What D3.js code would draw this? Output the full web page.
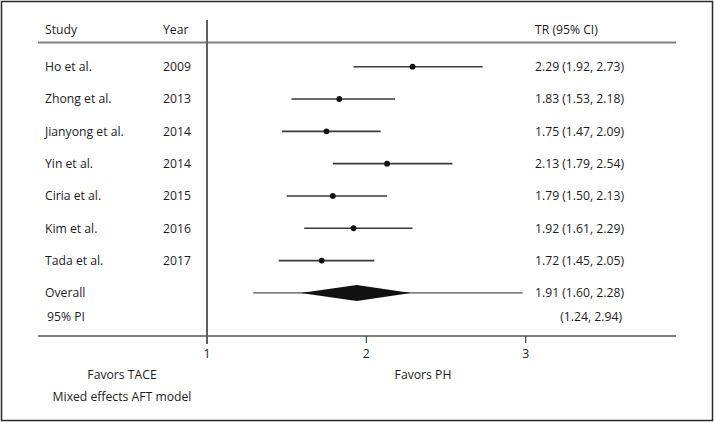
<!DOCTYPE html>
<html><head><meta charset="utf-8">
<script src="https://cdn.jsdelivr.net/npm/d3@7"></script>
<style>html,body{margin:0;padding:0;background:#fff}svg{display:block}text{font-family:"Open Sans",sans-serif;fill:#1c1c1c}</style>
</head><body>
<script>
const studies = ["Ho et al.","Zhong et al.","Jianyong et al.","Yin et al.","Ciria et al.","Kim et al.","Tada et al."];
const years = ["2009","2013","2014","2014","2015","2016","2017"];
const tr = [2.29,1.83,1.75,2.13,1.79,1.92,1.72];
const lo = [1.92,1.53,1.47,1.79,1.50,1.61,1.45];
const hi = [2.73,2.18,2.09,2.54,2.13,2.29,2.05];
const overall = {est:1.91, lo:1.60, hi:2.28, peak:1.94};
const pi = {lo:1.24, hi:2.94, drawnLo:1.29, drawnHi:2.98};
const ticks = [1,2,3];
const header = ["Study","Year","TR (95% CI)"];
const footer = ["Favors TACE","Favors PH","Mixed effects AFT model"];

const W=714,H=423;
const svg=d3.select("body").append("svg").attr("width",W).attr("height",H);
svg.append("rect").attr("x",1.5).attr("y",1.5).attr("width",W-3).attr("height",H-4)
  .attr("fill","none").attr("stroke","#2a2a2a").attr("stroke-width",1.5);

const x=d3.scaleLinear().domain([1,3]).range([207,525.7]);
const rows=d3.range(8);
const y=d3.scalePoint().domain(rows).range([66.7,292.9]);
const fs=12.2;

// header
svg.append("text").attr("x",45).attr("y",30).attr("dy","0.35em").attr("font-size",fs).text(header[0]);
svg.append("text").attr("x",163).attr("y",30).attr("dy","0.35em").attr("font-size",fs).text(header[1]);
svg.append("text").attr("x",535).attr("y",30).attr("dy","0.35em").attr("font-size",fs).text(header[2]);

const grey="#808080";
svg.append("line").attr("x1",38).attr("x2",676).attr("y1",42.5).attr("y2",42.5).attr("stroke",grey).attr("stroke-width",2);
svg.append("line").attr("x1",38).attr("x2",676).attr("y1",336).attr("y2",336).attr("stroke",grey).attr("stroke-width",2);
svg.append("line").attr("x1",x(1)).attr("x2",x(1)).attr("y1",20).attr("y2",344).attr("stroke","#606060").attr("stroke-width",2);

// axis ticks
const ax=svg.append("g").attr("transform","translate(0,336)");
ax.selectAll("line.t").data(ticks.slice(1)).join("line").attr("class","t")
  .attr("x1",d=>x(d)).attr("x2",d=>x(d)).attr("y1",0).attr("y2",7).attr("stroke","#404040").attr("stroke-width",1.2);
ax.selectAll("text").data(ticks).join("text").attr("x",d=>x(d)).attr("y",18).attr("dy","0.35em")
  .attr("text-anchor","middle").attr("font-size",fs).text(d=>d);

// study rows
const g=svg.append("g");
studies.forEach((s,i)=>{
  const yy=y(i);
  g.append("text").attr("x",45).attr("y",yy).attr("dy","0.35em").attr("font-size",fs).text(s);
  g.append("text").attr("x",163).attr("y",yy).attr("dy","0.35em").attr("font-size",fs).text(years[i]);
  g.append("text").attr("x",535).attr("y",yy).attr("dy","0.35em").attr("font-size",fs)
    .text(`${tr[i].toFixed(2)} (${lo[i].toFixed(2)}, ${hi[i].toFixed(2)})`);
  g.append("line").attr("x1",x(lo[i])).attr("x2",x(hi[i])).attr("y1",yy).attr("y2",yy)
    .attr("stroke","#3a3a3a").attr("stroke-width",1.6);
  g.append("circle").attr("cx",x(tr[i])).attr("cy",yy).attr("r",2.9).attr("fill","#111");
});

// overall
const yo=y(7);
svg.append("text").attr("x",45).attr("y",yo).attr("dy","0.35em").attr("font-size",fs).text("Overall");
svg.append("text").attr("x",535).attr("y",yo).attr("dy","0.35em").attr("font-size",fs)
  .text(`${overall.est.toFixed(2)} (${overall.lo.toFixed(2)}, ${overall.hi.toFixed(2)})`);
svg.append("line").attr("x1",x(pi.drawnLo)).attr("x2",x(pi.drawnHi)).attr("y1",yo).attr("y2",yo)
  .attr("stroke","#555").attr("stroke-width",1.2);
svg.append("path").attr("d",`M${x(overall.lo)-2},${yo}L${x(overall.peak)},${yo-8}L${x(overall.hi)},${yo}L${x(overall.peak)},${yo+8}Z`)
  .attr("fill","#111");

const yp=316.7;
svg.append("text").attr("x",47).attr("y",yp).attr("dy","0.35em").attr("font-size",fs).text("95% PI");
svg.append("text").attr("x",622).attr("y",yp).attr("dy","0.35em").attr("font-size",fs).attr("text-anchor","end")
  .text(`(${pi.lo.toFixed(2)}, ${pi.hi.toFixed(2)})`);

// footer
svg.append("text").attr("x",122).attr("y",375).attr("dy","0.35em").attr("text-anchor","middle").attr("font-size",fs).text(footer[0]);
svg.append("text").attr("x",423).attr("y",375).attr("dy","0.35em").attr("text-anchor","middle").attr("font-size",fs).text(footer[1]);
svg.append("text").attr("x",122).attr("y",397).attr("dy","0.35em").attr("text-anchor","middle").attr("font-size",fs).text(footer[2]);
</script>
</body></html>
